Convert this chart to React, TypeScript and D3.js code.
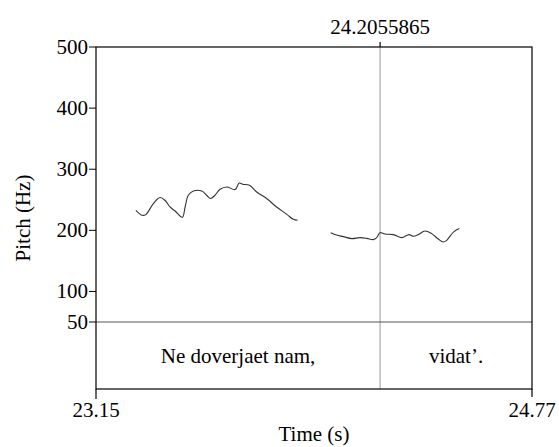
import React from "react";
import * as d3 from "d3";

const W = 559;
const H = 447;

const xDomain = [23.15, 24.77];
const yDomain = [50, 500];
const yTicks = [50, 100, 200, 300, 400, 500];
const cursorTime = 24.2055865;
const cursorLabel = "24.2055865";
const xEndLabels = ["23.15", "24.77"];

const seg1Times = [23.298, 23.322, 23.335, 23.363, 23.388, 23.406, 23.425, 23.444, 23.471, 23.481, 23.493, 23.512, 23.543, 23.561, 23.576, 23.592, 23.611, 23.636, 23.667, 23.682, 23.695, 23.72, 23.747, 23.784, 23.821, 23.859, 23.883, 23.899];
const seg1Pitch = [232.8, 224.6, 225.7, 243.8, 253.6, 249.2, 238.2, 231.6, 221.3, 238.2, 257.4, 264.4, 264.4, 257.4, 252, 257.4, 267.2, 271, 266.7, 277.5, 275.4, 273.8, 262.8, 252, 238.2, 226.2, 218, 216.4];

const seg2Times = [24.022, 24.044, 24.069, 24.1, 24.131, 24.156, 24.18, 24.193, 24.205, 24.224, 24.255, 24.286, 24.313, 24.329, 24.348, 24.372, 24.397, 24.422, 24.44, 24.453, 24.478, 24.5];
const seg2Pitch = [196.2, 192.3, 189.7, 186.4, 188.0, 186.9, 184.8, 188.0, 196.2, 193.9, 193.0, 188.0, 193.0, 190.2, 193.0, 198.9, 194.6, 185.7, 180.8, 183.6, 197.2, 202.8];

const tierLabels = ["Ne doverjaet nam,", "vidat’."];
const tierBounds = [23.15, 24.2055865, 24.77];

const FONT = "Liberation Serif";

export default function App() {
  const left = 96, right = 532, top = 47, tierTop = 322, bottom = 389;
  const x = d3.scaleLinear().domain(xDomain).range([left, right]);
  const y = d3.scaleLinear().domain(yDomain).range([tierTop, top]);
  const line = d3
    .line<[number, number]>()
    .x((d) => x(d[0]))
    .y((d) => y(d[1]))
    .curve(d3.curveCatmullRom);
  const segs = [
    seg1Times.map((t, i) => [t, seg1Pitch[i]] as [number, number]),
    seg2Times.map((t, i) => [t, seg2Pitch[i]] as [number, number]),
  ];
  const cx = x(cursorTime);
  const ts = { fontFamily: FONT, fontSize: "21px" };

  return (
    <svg
      width={W}
      height={H}
      style={{ position: "absolute", left: 0, top: 0, background: "#fff" }}
    >
      <rect x={0} y={0} width={W} height={H} fill="#fff" />
      {/* cursor */}
      <line x1={cx} x2={cx} y1={top - 5} y2={bottom} stroke="#999" strokeWidth={1} />
      <line x1={cx} x2={cx} y1={top - 5} y2={top} stroke="#000" strokeWidth={1} />
      <text x={cx} y={34} textAnchor="middle" style={ts}>
        {cursorLabel}
      </text>
      {/* pitch */}
      {segs.map((s, i) => (
        <path key={i} d={line(s) || ""} fill="none" stroke="#333" strokeWidth={1.1} />
      ))}
      {/* tier separator */}
      <line x1={left} x2={right} y1={tierTop} y2={tierTop} stroke="#555" strokeWidth={1} />
      {/* frame */}
      <rect x={left} y={top} width={right - left} height={bottom - top} fill="none" stroke="#000" strokeWidth={1.2} />
      <line x1={left} x2={left} y1={bottom} y2={399} stroke="#000" strokeWidth={1.2} />
      <line x1={right} x2={right} y1={bottom} y2={397} stroke="#000" strokeWidth={1.2} />
      {/* y ticks */}
      {yTicks.map((t) => (
        <g key={t}>
          <line x1={left - 7} x2={left} y1={y(t)} y2={y(t)} stroke="#000" strokeWidth={1} />
          <text x={left - 8} y={y(t) + 7} textAnchor="end" style={ts}>
            {t}
          </text>
        </g>
      ))}
      {/* x labels */}
      <text x={x(xDomain[0])} y={417} textAnchor="middle" style={ts}>
        {xEndLabels[0]}
      </text>
      <text x={x(xDomain[1])} y={417} textAnchor="middle" style={ts}>
        {xEndLabels[1]}
      </text>
      <text x={(left + right) / 2} y={441} textAnchor="middle" style={ts}>
        Time (s)
      </text>
      <text
        transform={`translate(30,${(top + bottom) / 2}) rotate(-90)`}
        textAnchor="middle"
        style={ts}
      >
        Pitch (Hz)
      </text>
      {/* tier text */}
      {tierLabels.map((lab, i) => (
        <text
          key={i}
          x={(x(tierBounds[i]) + x(tierBounds[i + 1])) / 2}
          y={363}
          textAnchor="middle"
          style={ts}
        >
          {lab}
        </text>
      ))}
    </svg>
  );
}
